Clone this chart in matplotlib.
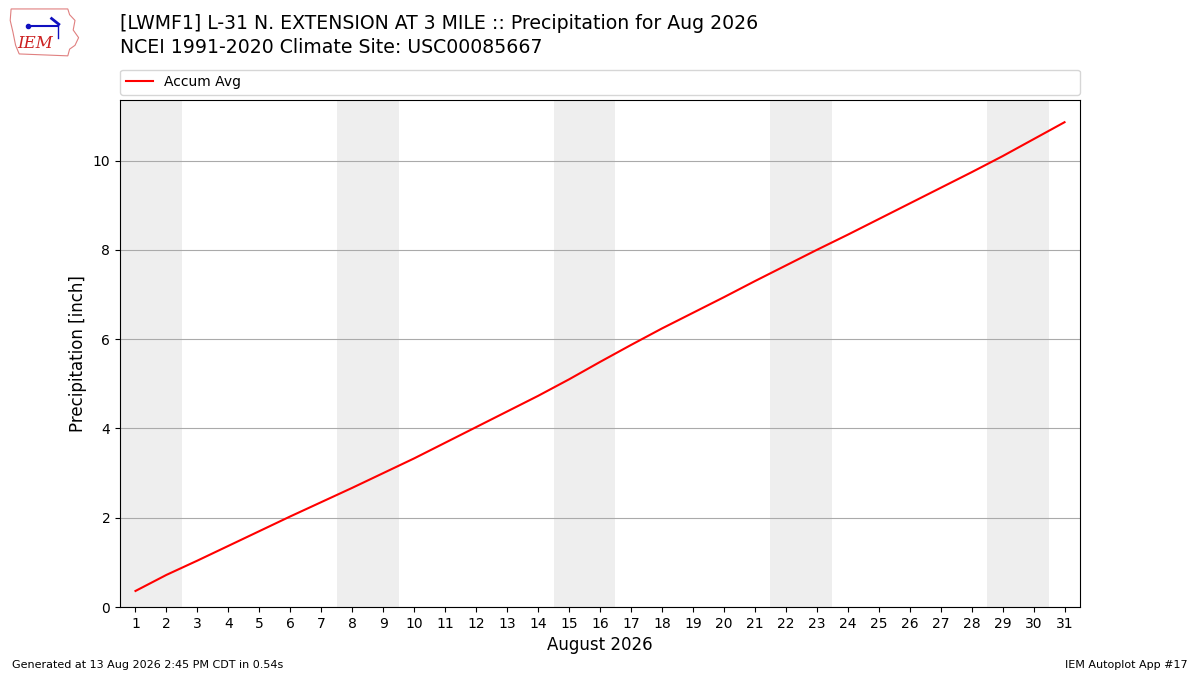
import matplotlib
matplotlib.use("Agg")
import matplotlib.pyplot as plt
from matplotlib.patches import Polygon

days = list(range(1, 32))
accum_avg = [0.36, 0.72, 1.04, 1.37, 1.70, 2.03, 2.35, 2.67, 3.00, 3.33,
             3.68, 4.03, 4.38, 4.73, 5.10, 5.49, 5.87, 6.24, 6.59, 6.94,
             7.30, 7.65, 8.00, 8.34, 8.69, 9.04, 9.39, 9.74, 10.10, 10.48,
             10.86]
weekend_starts = [1, 8, 15, 22, 29]

fig = plt.figure(figsize=(12, 6.75), dpi=100)
ax = fig.add_axes([0.1, 0.1007, 0.8, 0.7513])

for d in weekend_starts:
    ax.axvspan(d - 0.5, d + 1.5, color="#eeeeee", zorder=0, lw=0)

ax.plot(days, accum_avg, color="red", lw=1.5, label="Accum Avg", zorder=3)
ax.set_xlim(0.5, 31.5)
ax.set_ylim(0, 11.36)
ax.set_xticks(days)
ax.set_yticks([0, 2, 4, 6, 8, 10])
ax.grid(axis="y", color="#aaaaaa", lw=0.8, zorder=1)
ax.set_axisbelow(True)
ax.set_xlabel("August 2026", fontsize=12)
ax.set_ylabel("Precipitation [inch]", fontsize=12)
ax.legend(loc="lower left", bbox_to_anchor=(0, 1.01, 1, 0.05), mode="expand",
          ncol=1, fontsize=10, borderaxespad=0)

fig.text(0.1, 0.965, "[LWMF1] L-31 N. EXTENSION AT 3 MILE :: Precipitation for Aug 2026",
         fontsize=13.6, va="center", ha="left")
fig.text(0.1, 0.93, "NCEI 1991-2020 Climate Site: USC00085667",
         fontsize=13.6, va="center", ha="left")

fig.text(0.01, 0.0148, "Generated at 13 Aug 2026 2:45 PM CDT in 0.54s", fontsize=8,
         ha="left", va="center")
fig.text(0.99, 0.0148, "IEM Autoplot App #17", fontsize=8, ha="right", va="center")

# simple logo
lax = fig.add_axes([0.007, 0.913, 0.06, 0.078])
lax.set_xlim(0, 80)
lax.set_ylim(0, 55)
lax.axis("off")
outline = [(3, 52), (66, 52), (68, 46), (74, 40), (72, 30), (78, 22), (74, 14),
           (68, 10), (66, 3), (12, 5), (8, 14), (5, 28), (2, 40)]
lax.add_patch(Polygon(outline, closed=True, fill=False, ec="#e08080", lw=0.8))
lax.plot([25, 55], [34, 34], color="#1010c0", lw=1.5)
lax.plot([22], [34], "o", color="#1010c0", ms=3)
lax.plot([48, 56], [42, 36], color="#1010c0", lw=2)
lax.plot([55, 55], [34, 22], color="#1010c0", lw=1)
lax.text(10, 16, "IEM", color="#cc2020", fontsize=12, family="DejaVu Serif",
         style="italic", va="center")

fig.savefig("out.png", dpi=100)
